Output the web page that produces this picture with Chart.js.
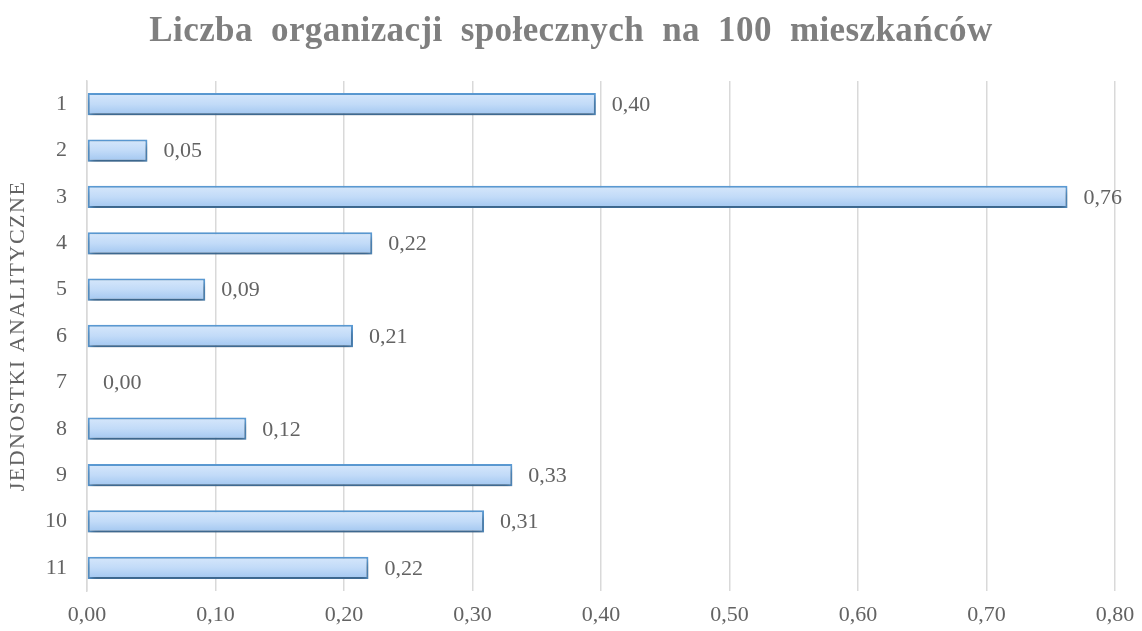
<!DOCTYPE html>
<html>
<head>
<meta charset="utf-8">
<script src="https://cdn.jsdelivr.net/npm/chart.js@4/dist/chart.umd.min.js"></script>
<style>
  body { margin: 0; background: #fff; }
  #wrap { width: 1142px; height: 631px; }
</style>
</head>
<body>
<div id="wrap"><canvas id="myChart" width="1142" height="631"></canvas></div>
<script>
var chartTitle = "Liczba organizacji społecznych na 100 mieszkańców";
var axisTitle = "JEDNOSTKI ANALITYCZNE";
var categories = ["1", "2", "3", "4", "5", "6", "7", "8", "9", "10", "11"];
var values = [0.396, 0.047, 0.763, 0.222, 0.092, 0.207, 0.0, 0.124, 0.331, 0.309, 0.219];
var xTicks = [0, 0.1, 0.2, 0.3, 0.4, 0.5, 0.6, 0.7, 0.8];

var serif = "'Liberation Serif', 'Times New Roman', serif";
var textGrey = "#636363";

function fmt(v) {
  return v.toFixed(2).replace(".", ",");
}

// bar fill: vertical gradient inside each bar
function barFill(context) {
  var chart = context.chart;
  var yScale = chart.scales.y;
  if (!yScale) return "#c4dcf8";
  var cy = yScale.getPixelForValue(context.dataIndex);
  var h = yScale.height / categories.length * 0.48;
  if (!isFinite(cy) || !isFinite(h) || h <= 0) return "#c4dcf8";
  var g = chart.ctx.createLinearGradient(0, cy - h / 2, 0, cy + h / 2);
  g.addColorStop(0, "#d6e7fb");
  g.addColorStop(0.5, "#c2dbf8");
  g.addColorStop(1, "#a1c6f0");
  return g;
}

var barShadow = {
  id: "barShadow",
  beforeDatasetsDraw: function (chart) {
    var ctx = chart.ctx;
    ctx.save();
    ctx.shadowColor = "rgba(0,0,0,0.4)";
    ctx.shadowBlur = 6;
    ctx.shadowOffsetY = 4;
    ctx.shadowOffsetX = 1;
  },
  afterDatasetsDraw: function (chart) {
    chart.ctx.restore();
  }
};

// value labels, chart title and spaced-out axis title
var textLayer = {
  id: "textLayer",
  afterDraw: function (chart) {
    var ctx = chart.ctx;
    var meta = chart.getDatasetMeta(0);
    ctx.save();
    ctx.font = "22px " + serif;
    ctx.fillStyle = textGrey;
    ctx.textAlign = "left";
    ctx.textBaseline = "middle";
    meta.data.forEach(function (bar, i) {
      ctx.fillText(fmt(values[i]), bar.x + 16, bar.y + 1);
    });

    ctx.font = "bold 35px " + serif;
    ctx.fillStyle = "#7f7f7f";
    ctx.textAlign = "center";
    ctx.textBaseline = "alphabetic";
    ctx.letterSpacing = "0.4px";
    ctx.wordSpacing = "9px";
    ctx.fillText(chartTitle, chart.width / 2, 41);
    ctx.wordSpacing = "0px";

    var area = chart.chartArea;
    ctx.translate(18, (area.top + area.bottom) / 2);
    ctx.rotate(-Math.PI / 2);
    ctx.font = "22px " + serif;
    ctx.fillStyle = textGrey;
    ctx.textBaseline = "middle";
    ctx.letterSpacing = "1.5px";
    ctx.fillText(axisTitle, 0, 0);
    ctx.restore();
  }
};

var ctx = document.getElementById("myChart").getContext("2d");

var myChart = new Chart(ctx, {
  type: "bar",
  data: {
    labels: categories,
    datasets: [
      {
        data: values,
        backgroundColor: barFill,
        borderColor: "#5b9bd5",
        borderWidth: 2,
        borderSkipped: false,
        barPercentage: 0.48,
        categoryPercentage: 1.0
      }
    ]
  },
  options: {
    indexAxis: "y",
    responsive: false,
    animation: false,
    layout: { padding: { left: 0, right: 27, top: 81, bottom: 0 } },
    scales: {
      x: {
        min: 0,
        max: 0.8,
        afterBuildTicks: function (scale) {
          scale.ticks = xTicks.map(function (v) { return { value: v }; });
        },
        afterFit: function (scale) {
          scale.height = 40;
          scale.paddingLeft = 0;
          scale.paddingRight = 0;
        },
        grid: { color: "#d9d9d9", lineWidth: 1.5, drawTicks: false },
        border: { display: false },
        ticks: {
          padding: 11,
          color: textGrey,
          font: { family: serif, size: 22 },
          callback: function (v) { return fmt(v); }
        }
      },
      y: {
        afterFit: function (scale) {
          scale.width = 87;
          scale.paddingTop = 0;
          scale.paddingBottom = 0;
        },
        grid: { display: false, drawTicks: false },
        border: { display: true, color: "#d9d9d9", width: 1.5 },
        ticks: {
          padding: 20,
          color: textGrey,
          font: { family: serif, size: 22 }
        }
      }
    },
    plugins: {
      legend: { display: false },
      tooltip: { enabled: false },
      title: { display: false }
    }
  },
  plugins: [barShadow, textLayer]
});
</script>
</body>
</html>
